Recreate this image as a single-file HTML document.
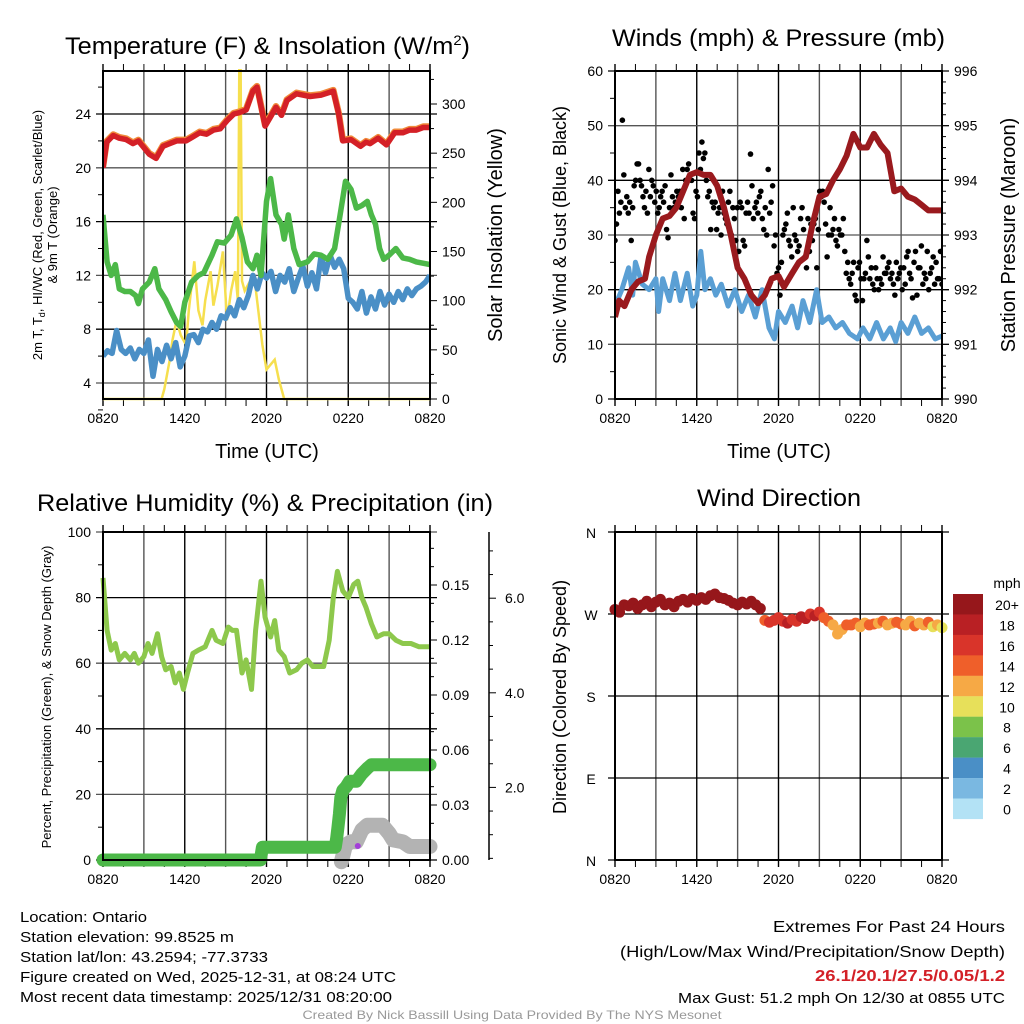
<!DOCTYPE html>
<html><head><meta charset="utf-8"><style>
html,body{margin:0;padding:0;background:#fff;}
svg{display:block;font-family:"Liberation Sans",sans-serif;}
</style></head><body>
<svg id="fig" width="1024" height="1024" viewBox="0 0 1024 1024" xmlns="http://www.w3.org/2000/svg">
<rect width="1024" height="1024" fill="#fff"/>
<text x="65" y="54" font-size="24" textLength="405" lengthAdjust="spacingAndGlyphs">Temperature (F) &amp; Insolation (W/m<tspan dy="-9" font-size="14">2</tspan><tspan dy="9">)</tspan></text>
<text x="612" y="46" font-size="24" textLength="333" lengthAdjust="spacingAndGlyphs">Winds (mph) &amp; Pressure (mb)</text>
<text x="37" y="511" font-size="24" textLength="456" lengthAdjust="spacingAndGlyphs">Relative Humidity (%) &amp; Precipitation (in)</text>
<text x="697" y="506" font-size="24" textLength="164" lengthAdjust="spacingAndGlyphs">Wind Direction</text>
<g id="g1"></g>
<g id="g2"></g>
<g id="g3"></g>
<g id="g4"></g>
<g font-size="15">
<text x="20" y="922" textLength="127" lengthAdjust="spacingAndGlyphs">Location: Ontario</text>
<text x="20" y="942" textLength="214" lengthAdjust="spacingAndGlyphs">Station elevation: 99.8525 m</text>
<text x="20" y="962" textLength="248" lengthAdjust="spacingAndGlyphs">Station lat/lon: 43.2594; -77.3733</text>
<text x="20" y="982" textLength="376" lengthAdjust="spacingAndGlyphs">Figure created on Wed, 2025-12-31, at 08:24 UTC</text>
<text x="20" y="1002" textLength="372" lengthAdjust="spacingAndGlyphs">Most recent data timestamp: 2025/12/31 08:20:00</text>
</g>
<g font-size="16" text-anchor="end">
<text x="1005" y="932" textLength="232" lengthAdjust="spacingAndGlyphs">Extremes For Past 24 Hours</text>
<text x="1005" y="957" textLength="385" lengthAdjust="spacingAndGlyphs">(High/Low/Max Wind/Precipitation/Snow Depth)</text>
<text x="1005" y="981" font-weight="bold" fill="#d32027" textLength="190" lengthAdjust="spacingAndGlyphs">26.1/20.1/27.5/0.05/1.2</text>
<text x="1005" y="1003" font-size="15" textLength="327" lengthAdjust="spacingAndGlyphs">Max Gust: 51.2 mph On 12/30 at 0855 UTC</text>
</g>
<text x="512" y="1019" font-size="12" fill="#999" text-anchor="middle" textLength="419" lengthAdjust="spacingAndGlyphs">Created By Nick Bassill Using Data Provided By The NYS Mesonet</text>
</svg>
<script>
// ---------- DATA ----------
const xTickLabels = ["0820","1420","2020","0220","0820"];
const tempTimes = [0,0.27,0.75,1.2,1.7,2.2,2.6,3,3.4,3.9,4.4,4.9,5.4,6.1,6.6,7.1,7.6,8.1,8.6,9.1,9.6,10,10.5,11,11.3,11.9,12.3,12.7,13.1,13.5,14.2,15.2,16,16.6,16.9,17.3,17.6,18.2,18.9,19.3,19.6,20.2,20.8,21.4,22,22.5,23,23.5,24];
const tempVals  = [20,21.9,22.4,22.2,22.1,21.8,22,21.5,21,20.7,21.6,21.8,22,22,22.3,22.6,22.5,22.8,22.9,23.5,24,24.1,24.3,25.7,26,23.1,23.8,24.5,23.9,25,25.5,25.3,25.4,25.6,25.7,24,22,22.1,21.6,21.9,21.8,22.2,21.7,22.6,22.6,22.8,22.8,23,23];
const dewTimes = [0,0.3,0.6,0.9,1.2,1.6,2,2.4,2.6,2.9,3.4,3.8,4.1,4.6,5,5.4,5.7,6,6.5,7,7.4,8,8.4,8.9,9.4,9.8,10.2,10.6,11,11.3,11.6,12,12.3,12.7,13.1,13.3,13.6,14,14.4,15,15.5,16,16.5,17,17.4,17.8,18.2,18.6,19,19.4,19.7,20,20.3,20.6,21,21.5,22,22.5,23,24];
const dewVals  = [16.5,13,12,12.8,11,10.8,10.8,10.5,9.9,11,11.5,12.5,11,10.2,9.3,8.5,8.2,10,11.5,12,12.2,13.5,14.5,14.4,15,16.2,14.8,13,12.5,13.5,12,17.5,19.2,16.5,15.8,14.7,16.5,14,12.8,13,13.6,13.5,13.2,14,16.5,19,18.4,17,17.2,17.5,16.5,15.8,14,13.2,13.5,14,13.3,13.2,13,12.8];
const wcVals = [6,6.4,6.2,7.9,6.5,6.2,6.6,5.8,6.5,6.2,7.2,4.5,6.5,5.6,6.8,5.8,7,5.2,6,7.5,7.6,7,8,7.8,8.5,8,9,8.8,9.6,9,10.2,9.6,10.5,12,11,12.2,11.8,12.3,10.8,12,11.5,12.5,10.8,11.8,12.7,11.2,12.2,11,13.4,12.2,13.5,12.6,13.2,12.5,10.3,10,9.5,10.8,9.2,10.4,9.5,10.8,9.8,10.6,10,10.8,10.2,11,10.5,11,11.2,11.5,12];
const solTimes = [0,4.3,4.5,4.9,5.1,5.4,5.7,6.1,6.3,6.7,7,7.3,7.5,7.9,8.1,8.4,8.8,9.1,9.4,9.7,9.9,10.0,10.1,10.2,10.4,10.8,11.1,11.4,11.7,12,12.3,12.6,12.9,13.3,24];
const solVals  = [0,0,10,40,60,80,65,55,90,140,90,75,100,130,95,115,150,80,110,130,100,340,340,120,110,120,125,90,55,30,35,40,20,0,0];
const windTimes = [0,0.5,1,1.3,1.5,2,2.5,3,3.2,3.5,4,4.4,4.8,5.3,5.7,6,6.3,6.6,7,7.4,7.8,8.3,8.8,9.3,9.8,10.3,10.8,11.3,11.7,12,12.5,13,13.4,13.8,14.3,14.8,15.2,15.7,16.2,16.7,17.2,17.8,18.2,18.7,19.2,19.7,20.2,20.6,21,21.5,22,22.5,23,23.5,24];
const windVals  = [17,20,24,19,25,21,20,22,16,22,18,23,18,23,17,19,27,20,22,19,21,17,20,16,19,15,20,13,11,16,14,17,13,18,14,20,14,15,13,14,12,11,13,11,14,11,13,10.5,14,12,15,12,13,11,11.5];
const gustVals = [29,32,38,34,36,51,41,35,37,34,36,29,35,39,40,43,43,40,39,37,35,38,34,42,37,40,39,36,38,34,35,37,38,36,39,31,29.5,35,41,37,35,36,38,37,38,35,42,33,40,42,43,41,40,34,33,38,37,45,42,47,44,45,40,37,38,31,36,35,36,31,34,35,30,38,34,33,32,36,38,30,35,33,29,35,27,36,35,29,28,34,36,34,44.8,39,33,35,36,34,37,38,33,31,35,30,42,34,36,39,28,30,23,24,19,25,30,31,32,34,29,28,26,35,30,29,27,28,33,35,31,26,24,33,27,32,29,32,33,24,31,38,37,38,36,32,26,30,35,30,31,33,29,28,31,30,30,33,27,23,25,22,21,23,25,19,18,24,25,22,18,22,23,29,26,22,24,21,20,24,22,20,22,21,26,23,23,24,25,22,23,21,19,25,22,23,24,20,24,21,26,27,23,22,18.5,25,27,19,24,24,28,21,23,22,27,20,23,24,26,21,25,22,22,27,21];
const presTimes = [0,0.3,0.7,1.2,1.7,2.2,2.5,3,3.5,4,4.5,5,5.5,6,6.5,7,7.5,8,8.5,9,9.5,10,10.5,11,11.5,12,12.4,13,13.5,14,14.5,15,15.5,16,16.5,17,17.5,18,18.5,19,19.5,20,20.5,21,21.5,22,22.5,23,24];
const presVals  = [991.5,991.8,991.7,992.0,992.15,992.2,992.6,993.0,993.3,993.35,993.5,993.8,994.1,994.15,994.1,994.1,993.9,993.5,993.0,992.4,992.2,991.9,991.75,991.9,992.2,992.25,992.05,992.3,992.5,992.6,993.2,993.7,993.75,994.0,994.2,994.45,994.85,994.6,994.6,994.85,994.65,994.5,993.8,993.85,993.7,993.65,993.55,993.45,993.45];
const rhTimes = [0,0.3,0.6,0.9,1.2,1.6,2,2.3,2.6,3,3.3,3.6,4,4.3,4.6,5,5.3,5.6,5.9,6.2,6.6,7,7.5,8,8.3,8.8,9.2,9.5,9.8,10.2,10.5,10.9,11.2,11.6,11.9,12.3,12.6,12.9,13.3,13.7,14.2,14.6,15,15.4,15.8,16.2,16.6,16.9,17.2,17.6,18,18.4,18.7,19,19.3,19.7,20.1,20.6,21,21.5,22,22.6,23.2,24];
const rhVals  = [86,70,64,66,61,63,61,63,60,62,66,63,69,62,58,59,54,57,52,57,63,64,65,70,67,66,71,70,70,57,61,52,70,85,74,68,73,64,62,57,58,60,61,59,59,59,67,80,88,82,80,84,85,80,77,72,68,69,69,67,66,66,65,65];
const precipTimes = [0,11.55,11.7,17.05,17.15,17.25,17.35,17.45,17.6,17.85,18.1,18.6,19.0,19.4,19.7,24];
const precipVals  = [0,0,0.007,0.007,0.012,0.018,0.025,0.034,0.038,0.040,0.043,0.043,0.047,0.050,0.052,0.052];
const snowTimes = [17.5,17.8,18.2,18.6,19,19.4,20.5,21,21.3,22,22.5,24];
const snowVals  = [0.43,0.78,0.85,0.85,1.10,1.2,1.2,1.03,0.89,0.85,0.75,0.75];
const dirVals = [275,272,280,279,282,276,280,284,278,283,286,280,282,278,284,286,283,287,285,288,286,290,292,288,287,285,282,280,283,281,284,280,276,263,261,263,266,262,260,264,262,267,265,270,268,272,266,262,258,248,253,258,258,260,256,260,258,259,260,262,258,260,261,259,258,262,257,260,258,261,256,258,255];
const spdVals = [22,21,22,23,21,22,22,21,22,23,22,21,22,22,21,22,23,22,21,22,22,23,22,21,22,21,22,21,20,21,20,21,22,15,16,17,16,17,18,16,17,18,19,17,18,16,15,14,12,12,13,14,15,14,13,12,14,15,13,14,12,13,14,15,12,13,14,13,12,14,11,12,11];
const cbLabels = ["20+","18","16","14","12","10","8","6","4","2","0"];
const cbColors = ["#96171b","#b92024","#d9342a","#ef5f2a","#f6a945","#e7e05a","#7bc24a","#4aa672","#4a8fc6","#7ab8e1","#b3e2f5"];

// ---------- HELPERS ----------
const NS="http://www.w3.org/2000/svg";
function mk(parent,tag,attrs){const e=document.createElementNS(NS,tag);for(const k in attrs)e.setAttribute(k,attrs[k]);parent.appendChild(e);return e;}
function txt(parent,x,y,s,size,anchor,extra){const e=mk(parent,"text",Object.assign({x:x,y:y,"font-size":size,"text-anchor":anchor||"middle"},extra||{}));e.textContent=s;return e;}
function pathD(ts,vs,X,Y){return ts.map((t,i)=>(i?"L":"M")+X(t).toFixed(1)+","+Y(vs[i]).toFixed(1)).join("");}
const PW=327,PH=328;
function frame(g,x0,y0){
  const X=t=>x0+t*PW/24;
  for(let h=0;h<=24;h+=3){
    const l=mk(g,"line",{x1:X(h),x2:X(h),y1:y0-7,y2:y0+PH+7,stroke:(h%6==0)?"#000":"#555","stroke-width":1.4});
    
    
  }
  for(let h=1.5;h<24;h+=3){
    mk(g,"line",{x1:X(h),x2:X(h),y1:y0-7,y2:y0,stroke:"#000","stroke-width":1});
    mk(g,"line",{x1:X(h),x2:X(h),y1:y0+PH,y2:y0+PH+7,stroke:"#000","stroke-width":1});
  }
  xTickLabels.forEach((s,i)=>{
    const t=txt(g,X(i*6),y0+PH+24,s,14);
    
    
  });
  return X;
}
function hgrid(g,x0,y,col){mk(g,"line",{x1:x0-7,x2:x0+PW+7,y1:y,y2:y,stroke:col||"#000","stroke-width":1.3});}
function border(g,x0,y0){mk(g,"rect",{x:x0,y:y0,width:PW,height:PH,fill:"none",stroke:"#000","stroke-width":2});}

// ---------- PANEL 1 ----------
(function(){
  const g=document.getElementById("g1"),x0=103,y0=71;
  const X=frame(g,x0,y0);
  const Y=v=>114+(24-v)*(269/20);
  const Ys=v=>399-v*(295/300);
  [4,8,12,16,20,24].forEach(v=>{hgrid(g,x0,Y(v),(v%8==0)?"#000":"#555");const t=txt(g,x0-12,Y(v)+5,String(v),14,"end");});
  for(let v=2;v<=26;v+=4){mk(g,"line",{x1:x0-5,x2:x0,y1:Y(v),y2:Y(v),stroke:"#000"});}
  for(let v=0;v<=330;v+=25){mk(g,"line",{x1:x0+PW,x2:x0+PW+(v%50?4:7),y1:Ys(v),y2:Ys(v),stroke:"#000"});}
  for(let v=0;v<=300;v+=50){const t=txt(g,x0+PW+12,Ys(v)+5,String(v),14,"start");}
  const cp=mk(g,"clipPath",{id:"c1"});mk(cp,"rect",{x:x0,y:y0-2,width:PW,height:PH+4});
  const L=mk(g,"g",{"clip-path":"url(#c1)"});
  let p;
  p=mk(L,"path",{d:pathD(solTimes,solVals,X,Ys),fill:"none",stroke:"#f6df4e","stroke-width":2.5});
  
  p=mk(L,"path",{d:pathD(tempTimes,tempVals,X,Y),fill:"none",stroke:"#f08a3a","stroke-width":6.5,transform:"translate(0,-1)","stroke-linejoin":"round"});
  
  const wcT=wcVals.map((v,i)=>i/3);
  p=mk(L,"path",{d:pathD(wcT,wcVals,X,Y),fill:"none",stroke:"#4a8fc6","stroke-width":5.5,"stroke-linejoin":"round"});
  
  p=mk(L,"path",{d:pathD(dewTimes,dewVals,X,Y),fill:"none",stroke:"#4cb848","stroke-width":5.5,"stroke-linejoin":"round"});
  
  p=mk(L,"path",{d:pathD(tempTimes,tempVals,X,Y),fill:"none",stroke:"#d42027","stroke-width":5.5,"stroke-linejoin":"round"});
  
  border(g,x0,y0);
  txt(g,267,458,"Time (UTC)",20,"middle",{});
  const a=txt(g,0,0,"",13,"middle",{transform:"translate(42,235) rotate(-90)",});
  a.innerHTML='2m T, T<tspan font-size="9" dy="3">d</tspan><tspan dy="-3">, HI/WC (Red, Green, Scarlet/Blue)</tspan>';
  txt(g,0,0,"& 9m T (Orange)",13,"middle",{transform:"translate(57,235) rotate(-90)",});
  txt(g,0,0,"Solar Insolation (Yellow)",20,"middle",{transform:"translate(502,235) rotate(-90)",});
})();

// ---------- PANEL 2 ----------
(function(){
  const g=document.getElementById("g2"),x0=615,y0=71;
  const X=frame(g,x0,y0);
  const Y=v=>399-v*(PH/60);
  const Yp=v=>399-(v-990)*(PH/6);
  for(let v=0;v<=60;v+=10){hgrid(g,x0,Y(v),(v%20==0)?"#000":"#555");const t=txt(g,x0-12,Y(v)+5,String(v),14,"end");}
  for(let v=5;v<60;v+=10)mk(g,"line",{x1:x0-5,x2:x0,y1:Y(v),y2:Y(v),stroke:"#000"});
  for(let v=0;v<=30;v++){const m=990+v*0.2;mk(g,"line",{x1:x0+PW,x2:x0+PW+(v%5?4:7),y1:Yp(m),y2:Yp(m),stroke:"#000"});}
  for(let v=990;v<=996;v++){const t=txt(g,x0+PW+12,Yp(v)+5,String(v),14,"start");}
  const cp=mk(g,"clipPath",{id:"c2"});mk(cp,"rect",{x:x0,y:y0,width:PW,height:PH});
  const L=mk(g,"g",{"clip-path":"url(#c2)"});
  let p=mk(L,"path",{d:pathD(windTimes,windVals,X,Y),fill:"none",stroke:"#5a9fd4","stroke-width":5,"stroke-linejoin":"round"});
  
  gustVals.forEach((v,i)=>{
    const c=mk(L,"circle",{cx:X(i*24/(gustVals.length-1)),cy:Y(v),r:2.8,fill:"#000"});
    
    
  });
  p=mk(L,"path",{d:pathD(presTimes,presVals,X,Yp),fill:"none",stroke:"#9a1a1e","stroke-width":6,"stroke-linejoin":"round"});
  
  border(g,x0,y0);
  txt(g,779,458,"Time (UTC)",20,"middle",{});
  txt(g,0,0,"Sonic Wind & Gust (Blue, Black)",18,"middle",{transform:"translate(566,235) rotate(-90)",});
  txt(g,0,0,"Station Pressure (Maroon)",20,"middle",{transform:"translate(1015,235) rotate(-90)",});
})();

// ---------- PANEL 3 ----------
(function(){
  const g=document.getElementById("g3"),x0=103,y0=532;
  const X=frame(g,x0,y0);
  const Y=v=>860-v*(PH/100);
  const Yp=v=>860-v*(275/0.15);
  const Ysn=v=>882-v*47.3;
  for(let v=0;v<=100;v+=20){hgrid(g,x0,Y(v),(v%40==20)?"#555":"#000");const t=txt(g,x0-12,Y(v)+5,String(v),14,"end");}
  for(let v=10;v<100;v+=20)mk(g,"line",{x1:x0-5,x2:x0,y1:Y(v),y2:Y(v),stroke:"#000"});
  for(let i=0;i<=17;i++){const v=i*0.01;mk(g,"line",{x1:x0+PW,x2:x0+PW+(i%3?4:7),y1:Yp(v),y2:Yp(v),stroke:"#000"});}
  ["0.00","0.03","0.06","0.09","0.12","0.15"].forEach((s,i)=>{const t=txt(g,x0+PW+12,Yp(i*0.03)+5,s,14,"start");});
  mk(g,"line",{x1:489,x2:489,y1:532,y2:860,stroke:"#000","stroke-width":1.5});
  for(let i=1;i<=14;i++){const v=i*0.5;const y=Ysn(v);if(y<534)continue;mk(g,"line",{x1:489,x2:489+(i%4?4:7),y1:y,y2:y,stroke:"#000"});}
  ["2.0","4.0","6.0"].forEach((s,i)=>{const t=txt(g,505,Ysn((i+1)*2)+5,s,14,"start");});
  const L=mk(g,"g",{});
  let p=mk(L,"path",{d:pathD(rhTimes,rhVals,X,Y),fill:"none",stroke:"#8dc84c","stroke-width":5,"stroke-linejoin":"round"});
  
  p=mk(L,"path",{d:pathD(snowTimes,snowVals,X,Ysn),fill:"none",stroke:"#b3b3b3","stroke-width":15,"stroke-linejoin":"round","stroke-linecap":"round"});
  
  p=mk(L,"path",{d:pathD(precipTimes,precipVals,X,Yp),fill:"none",stroke:"#4cb848","stroke-width":13,"stroke-linejoin":"round","stroke-linecap":"round"});
  
  const d=mk(L,"circle",{cx:X(18.7),cy:846,r:3,fill:"#a33fd8"});
  
  border(g,x0,y0);
  txt(g,0,0,"Percent, Precipitation (Green), & Snow Depth (Gray)",13,"middle",{transform:"translate(51,697) rotate(-90)",});
})();

// ---------- PANEL 4 ----------
(function(){
  const g=document.getElementById("g4"),x0=615,y0=532;
  const X=frame(g,x0,y0);
  const Y=d=>860-d*(PH/360);
  ["N","E","S","W","N"].forEach((s,i)=>{hgrid(g,x0,Y(i*90),"#000");const t=txt(g,x0-24,Y(i*90)+6,s,14,"middle");});
  const L=mk(g,"g",{});
  dirVals.forEach((d,i)=>{
    const ci=Math.max(0,10-Math.min(10,Math.floor(spdVals[i]/2)));
    const c=mk(L,"circle",{cx:X(i*24/(dirVals.length-1)),cy:Y(d),r:5.5,fill:cbColors[ci]});
    
    
  });
  border(g,x0,y0);
  txt(g,0,0,"Direction (Colored By Speed)",18,"middle",{transform:"translate(566,697) rotate(-90)",});
  txt(g,1007,588,"mph",14,"middle",{});
  cbLabels.forEach((s,i)=>{
    const y=594+i*20.45;
    const r=mk(g,"rect",{x:953,y:y,width:30,height:20.6,fill:cbColors[i]});
    
    
    const t=txt(g,1007,y+16,s,14,"middle");
    
    
  });
})();
</script>
</body></html>
